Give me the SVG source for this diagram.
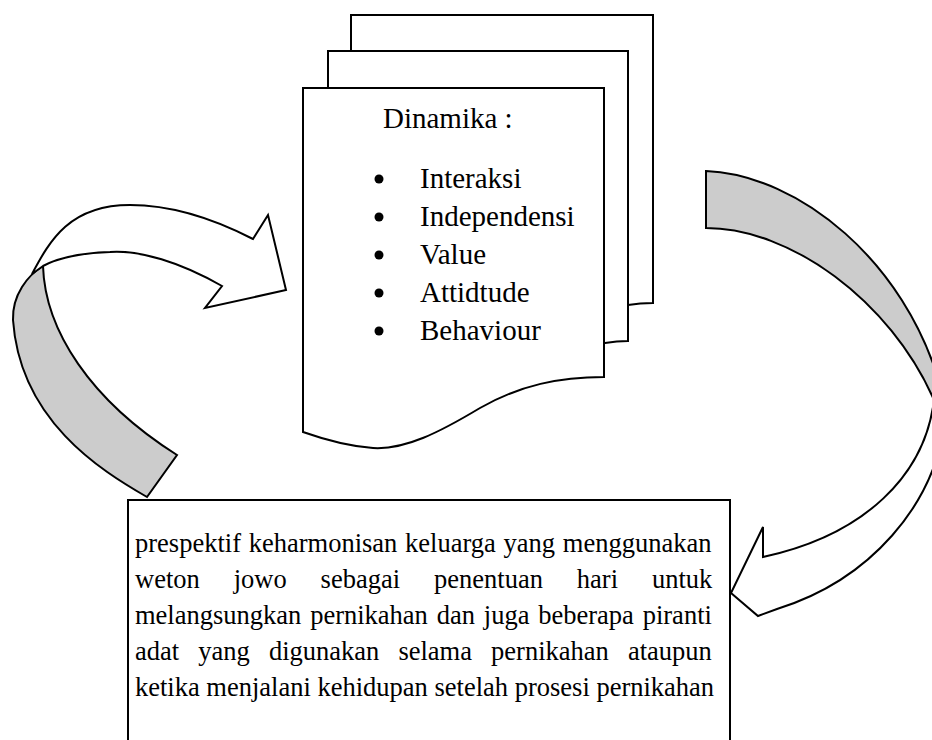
<svg xmlns="http://www.w3.org/2000/svg" width="932" height="740" viewBox="0 0 932 740">
<style>
.s{fill:#fff;stroke:#000;stroke-width:2;stroke-linejoin:miter}
.g{fill:#cccccc;stroke:#000;stroke-width:2;stroke-linejoin:miter}
.t{font-family:"Liberation Serif","Times New Roman",serif;fill:#000}
.top{font-size:29px}
.bot{font-size:26.5px}
</style>
<rect width="932" height="740" fill="#fff"/>
<g id="connectors">
<g id="arrow-left">
<path class="g" d="M43,266 C45,330 90,400 177,455 L147,497 C100,470 20,420 13,320 C12,295 28,275 43,266 Z"/>
<path class="s" d="M32,274 C50,240 70,205 130,205 C175,205 220,222 253,239 L268,215 L286,290 L205,308 L222,286 C180,262 140,250 110,252 C80,253 58,258 43,266 Z"/>
</g>
<g id="arrow-right">
<path class="g" d="M706,171 C800,175 905,262 940,385 L940,402 L934,400 C890,300 790,228 706,228 Z"/>
<path class="s" d="M934,400 C925,475 865,535 763,557 L763,527 L731,593 L758,616 L777,609 C870,580 935,505 945,420 Z"/>
</g>
</g>
<g id="node-dinamika">
<path class="s" d="M351,15 H653 V303 C640,303 634,304 628,305 H351 Z"/>
<path class="s" d="M328,51 H628 V341 C618,341 611,342 605,343 H328 Z"/>
<path class="s" d="M303,88 H604 V377 C560,377 520,385 480,408 C440,432 405,450 373,448 C345,446 320,438 303,432 Z"/>
<text class="t top" x="383" y="128">Dinamika :</text>
<g fill="#000">
<circle cx="379" cy="179" r="4.5"/>
<circle cx="379" cy="217" r="4.5"/>
<circle cx="379" cy="255" r="4.5"/>
<circle cx="379" cy="293" r="4.5"/>
<circle cx="379" cy="331" r="4.5"/>
</g>
<text class="t top" x="420" y="188">Interaksi</text>
<text class="t top" x="420" y="226">Independensi</text>
<text class="t top" x="420" y="264">Value</text>
<text class="t top" x="420" y="302">Attidtude</text>
<text class="t top" x="420" y="340">Behaviour</text>
</g>
<g id="node-prespektif">
<rect class="s" x="128" y="500" width="602" height="270"/>
<text class="t bot" x="135" y="552" word-spacing="1.1">prespektif keharmonisan keluarga yang menggunakan</text>
<text class="t bot" y="588"><tspan x="135">weton</tspan><tspan x="233.7">jowo</tspan><tspan x="320.6">sebagai</tspan><tspan x="434">penentuan</tspan><tspan x="576.8">hari</tspan><tspan x="651.9">untuk</tspan></text>
<text class="t bot" x="135" y="624" word-spacing="2.2">melangsungkan pernikahan dan juga beberapa piranti</text>
<text class="t bot" x="135" y="660" word-spacing="12.5">adat yang digunakan selama pernikahan ataupun</text>
<text class="t bot" x="135" y="696">ketika menjalani kehidupan setelah prosesi pernikahan</text>
</g>
</svg>
